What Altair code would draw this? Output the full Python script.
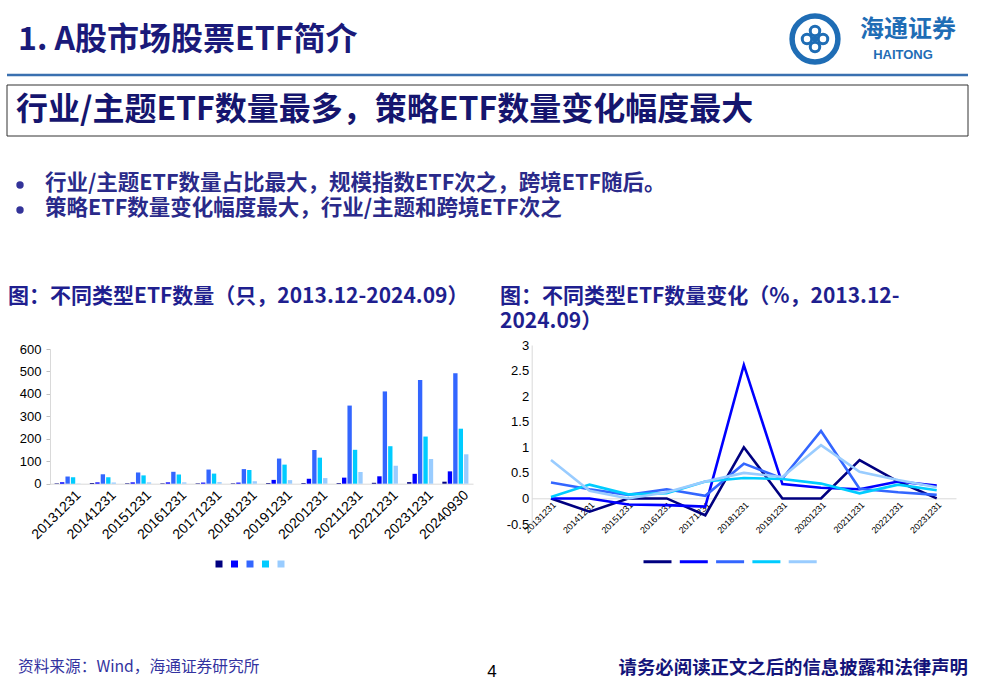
import altair as alt
import pandas as pd

# ---------------- data ----------------
series = ["风格", "策略", "行业/主题", "规模指数", "跨境"]
colors = ["#000080", "#0000FF", "#3366FF", "#00CCFF", "#99CCFF"]

dates_bar = ["20131231", "20141231", "20151231", "20161231", "20171231", "20181231",
             "20191231", "20201231", "20211231", "20221231", "20231231", "20240930"]
cnt_style = [2, 3, 2, 2, 2, 2, 3, 3, 3, 4, 7, 9]
cnt_strategy = [6, 6, 6, 6, 5, 5, 17, 22, 27, 33, 44, 55]
cnt_theme = [32, 42, 50, 53, 63, 65, 112, 150, 348, 411, 462, 492]
cnt_broad = [29, 29, 37, 41, 45, 61, 85, 116, 151, 167, 210, 245]
cnt_cross = [1, 5, 6, 6, 7, 11, 16, 25, 52, 80, 110, 131]

dates_line = ["20131231", "20141231", "20151231", "20161231", "20171231", "20181231",
              "20191231", "20201231", "20211231", "20221231", "20231231"]
chg_style = [0, -0.26, 0, 0, -0.33, 1.0, 0, 0, 0.75, 0.33, 0]
chg_strategy = [0, 0, -0.12, -0.13, -0.16, 2.61, 0.28, 0.21, 0.18, 0.33, 0.25]
chg_theme = [0.31, 0.18, 0.07, 0.18, 0.05, 0.68, 0.39, 1.32, 0.19, 0.12, 0.07]
chg_broad = [0.03, 0.27, 0.08, 0.10, 0.33, 0.40, 0.38, 0.29, 0.10, 0.27, 0.16]
chg_cross = [0.75, 0.15, 0.0, 0.12, 0.33, 0.50, 0.42, 1.04, 0.52, 0.36, 0.22]

bar_rows = []
for s, vals in zip(series, [cnt_style, cnt_strategy, cnt_theme, cnt_broad, cnt_cross]):
    for d, v in zip(dates_bar, vals):
        bar_rows.append({"date": d, "series": s, "value": v})
bar_df = pd.DataFrame(bar_rows)

line_rows = []
for s, vals in zip(series, [chg_style, chg_strategy, chg_theme, chg_broad, chg_cross]):
    for d, v in zip(dates_line, vals):
        line_rows.append({"date": d, "kind": s, "value": v})
line_df = pd.DataFrame(line_rows)

W, H = 991, 690
CJK = "Noto Sans CJK SC"
LAT = "Liberation Sans"

one = pd.DataFrame({"k": [0]})


def text(x, y, s, size, color, weight="bold", font=CJK, align="left"):
    return alt.Chart(pd.DataFrame({"t": [s]})).mark_text(
        align=align, baseline="middle", font=font, fontSize=size,
        fontWeight=weight, color=color
    ).encode(x=alt.value(x), y=alt.value(y), text="t:N")


def ring(x, y, size, sw, color="#1f6db5"):
    return alt.Chart(one).mark_point(shape="circle", size=size, filled=False,
                                     stroke=color, strokeWidth=sw, opacity=1).encode(
        x=alt.value(x), y=alt.value(y))


# ---------------- slide decorations ----------------
title = text(18, 40, "1. A股市场股票ETF简介", 32, "#1a1a7a")
rule_top = alt.Chart(one).mark_rule(color="#3a70b0", strokeWidth=2.5).encode(
    x=alt.value(7), x2=alt.value(968), y=alt.value(75))
box = alt.Chart(one).mark_rect(fillOpacity=0, stroke="#333333", strokeWidth=1).encode(
    x=alt.value(7), x2=alt.value(968), y=alt.value(85), y2=alt.value(136))
box_text = text(16, 110, "行业/主题ETF数量最多，策略ETF数量变化幅度最大", 32, "#15156e")

LGX, LGY = 815, 39
logo_parts = [
    ring(LGX, LGY, 2100, 5.5),
    ring(LGX - 8, LGY, 90, 3), ring(LGX + 8, LGY, 90, 3),
    ring(LGX, LGY - 8, 90, 3), ring(LGX, LGY + 8, 90, 3),
    alt.Chart(one).mark_point(shape="square", size=20, filled=True, color="#1f6db5",
                              opacity=1).encode(x=alt.value(LGX), y=alt.value(LGY)),
]
logo_cn = text(908, 30, "海通证券", 24, "#1f6db5", align="center")
logo_en = text(903, 55, "HAITONG", 13, "#1f6db5", font=LAT, align="center")

bullet_color = "#2a2a8a"
b1 = alt.Chart(one).mark_point(shape="circle", size=55, filled=True,
                               color="#333399", opacity=1).encode(
    x=alt.value(20), y=alt.value(185))
b2 = alt.Chart(one).mark_point(shape="circle", size=55, filled=True,
                               color="#333399", opacity=1).encode(
    x=alt.value(20), y=alt.value(210))
t1 = text(45, 184, "行业/主题ETF数量占比最大，规模指数ETF次之，跨境ETF随后。", 21.5, bullet_color)
t2 = text(45, 209, "策略ETF数量变化幅度最大，行业/主题和跨境ETF次之", 21.5, bullet_color)

ct_color = "#1f1f8f"
ct1 = text(8, 297, "图：不同类型ETF数量（只，2013.12-2024.09）", 21, ct_color)
ct2a = text(500, 297, "图：不同类型ETF数量变化（%，2013.12-", 21, ct_color)
ct2b = text(500, 322, "2024.09）", 21, ct_color)

foot1 = text(18, 667, "资料来源：Wind，海通证券研究所", 15.7, "#3333a0", weight="normal")
foot2 = text(492, 672, "4", 17, "#000000", weight="normal", font=LAT, align="center")
foot3 = text(968, 668, "请务必阅读正文之后的信息披露和法律声明", 18.4, "#14147a", align="right")

# ---------------- bar chart ----------------
BX0, BX1 = 50, 473
BY0, BY1 = 483.7, 349
bars = alt.Chart(bar_df).mark_bar().encode(
    x=alt.X("date:N", sort=dates_bar, title=None,
            scale=alt.Scale(range=[BX0, BX1], paddingInner=0.26, paddingOuter=0.13),
            axis=alt.Axis(orient="bottom", offset=-(H - BY0), labelAngle=-45,
                          labelFont=LAT, labelFontSize=14, labelColor="#000000",
                          domainColor="#d9d9d9", ticks=False, labelPadding=4,
                          labelOffset=6)),
    xOffset=alt.XOffset("series:N", sort=series, scale=alt.Scale(paddingInner=0.2)),
    y=alt.Y("value:Q", title=None,
            scale=alt.Scale(domain=[0, 600], range=[BY0, BY1], nice=False),
            axis=alt.Axis(orient="left", offset=-BX0, values=[0, 100, 200, 300, 400, 500, 600],
                          labelFont=LAT, labelFontSize=13, labelColor="#000000",
                          domainColor="#d9d9d9", tickColor="#bfbfbf", tickSize=4,
                          labelPadding=5, grid=False)),
    color=alt.Color("series:N", sort=series,
                    scale=alt.Scale(domain=series, range=colors),
                    legend=alt.Legend(orient="none", legendX=215.5, legendY=560.5,
                                      direction="horizontal", title=None, labelExpr="''",
                                      symbolType="square", symbolSize=49,
                                      symbolStrokeWidth=0, columnPadding=8.5,
                                      labelOffset=0, labelFontSize=1, padding=0)),
)

# ---------------- line chart ----------------
LX0, LX1 = 531.7, 956
LY0, LY1 = 524, 345
lines = alt.Chart(line_df).mark_line(strokeWidth=2.6).encode(
    x=alt.X("date:N", sort=dates_line, title=None,
            scale=alt.Scale(type="point", range=[LX0, LX1], padding=0.5),
            axis=alt.Axis(orient="bottom", offset=-(H - 498.3), labelAngle=-45,
                          labelFont=LAT, labelFontSize=9, labelColor="#000000",
                          domainColor="#d9d9d9", ticks=False, labelPadding=2)),
    y=alt.Y("value:Q", title=None,
            scale=alt.Scale(domain=[-0.5, 3], range=[LY0, LY1], nice=False, zero=False),
            axis=alt.Axis(orient="left", offset=-LX0,
                          values=[-0.5, 0, 0.5, 1, 1.5, 2, 2.5, 3],
                          labelExpr="datum.value + ''",
                          labelFont=LAT, labelFontSize=13, labelColor="#000000",
                          domainColor="#d9d9d9", ticks=False, labelPadding=3, grid=False)),
    color=alt.Color("kind:N", sort=series,
                    scale=alt.Scale(domain=series, range=colors),
                    legend=alt.Legend(orient="none", legendX=642, legendY=546,
                                      direction="horizontal", title=None, labelExpr="''",
                                      symbolType="stroke", symbolSize=784,
                                      symbolStrokeWidth=3, columnPadding=-4.7,
                                      labelOffset=0, labelFontSize=1, padding=0)),
)

chart = alt.layer(
    title, rule_top, box, box_text, *logo_parts, logo_cn, logo_en,
    b1, b2, t1, t2, ct1, ct2a, ct2b, foot1, foot2, foot3,
    bars, lines
).resolve_scale(
    x="independent", y="independent", color="independent", xOffset="independent"
).resolve_axis(x="independent", y="independent").resolve_legend(color="independent").properties(
    width=W, height=H, padding=0, autosize=alt.AutoSizeParams(type="none"),
    background="white"
).configure_view(stroke=None)

chart.save("out.html", embed_options={"renderer": "svg", "actions": False})
